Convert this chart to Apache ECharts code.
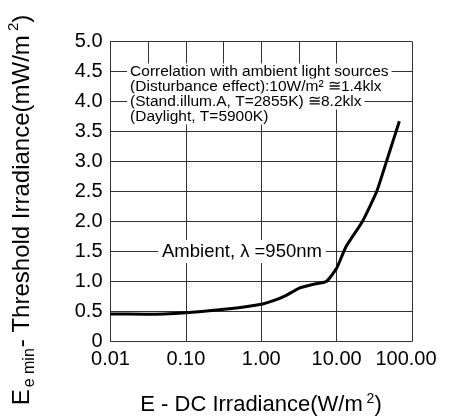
<!DOCTYPE html>
<html>
<head>
<meta charset="utf-8">
<script src="https://cdn.jsdelivr.net/npm/echarts@6/dist/echarts.min.js"></script>
<style>
html,body{margin:0;padding:0;background:#fff;}
#chart{width:449px;height:417px;}
</style>
</head>
<body>
<div id="chart"></div>
<script>
// ---- data ----
const xTicks = [0.01, 0.1, 1, 10, 100];
const xTickLabels = ['0.01', '0.10', '1.00', '10.00', '100.00'];
const yTicks = [0, 0.5, 1, 1.5, 2, 2.5, 3, 3.5, 4, 4.5, 5];
const yTickLabels = ['0', '0.5', '1.0', '1.5', '2.0', '2.5', '3.0', '3.5', '4.0', '4.5', '5.0'];
const irradiance = [0.01, 0.03, 0.1, 0.35, 1.0, 1.45, 2.15, 3.2, 4.8, 7.3, 10, 13.3, 22, 34, 48, 68];
const threshold  = [0.46, 0.455, 0.48, 0.54, 0.62, 0.68, 0.77, 0.89, 0.95, 1.0, 1.22, 1.58, 2.0, 2.5, 3.08, 3.67];
const halfDecadeStubs = [0.0316, 0.316, 3.16];
const stubRange = [4.5, 5.0];
const noteLines = [
  'Correlation with ambient light sources',
  '(Disturbance effect):10W/m² ≅1.4klx',
  '(Stand.illum.A, T=2855K) ≅8.2klx',
  '(Daylight, T=5900K)'
];
const noteAnchor = [0.0166, 4.5];
const noteLevels = [4.5, 4.25, 4.0, 3.75];
const curveLabel = 'Ambient, λ =950nm';
const curveLabelAnchor = [0.555, 1.5];

const FONT = '"Liberation Sans", Arial, Helvetica, sans-serif';
const GRIDC = '#333';

const chart = echarts.init(document.getElementById('chart'), null, {renderer: 'canvas'});

const curve = irradiance.map((x, i) => [x, threshold[i]]);

function xLabel(v) {
  let idx = xTicks.findIndex(t => Math.abs(Math.log10(t) - Math.log10(v)) < 1e-6);
  if (idx < 0) return '';
  if (idx === xTicks.length - 1) return '{last|' + xTickLabels[idx] + '}';
  return xTickLabels[idx];
}
function yLabel(v) {
  let idx = yTicks.findIndex(t => Math.abs(t - v) < 1e-6);
  return idx < 0 ? '' : yTickLabels[idx];
}

chart.setOption({
  animation: false,
  backgroundColor: '#fff',
  textStyle: {fontFamily: FONT},
  grid: {left: 110.5, right: 37, top: 41.5, bottom: 75.5, outerBoundsMode: 'none', containLabel: false},
  xAxis: {
    type: 'log', logBase: 10, min: 0.01, max: 100,
    axisLine: {show: true, lineStyle: {color: GRIDC, width: 1}},
    axisTick: {show: false},
    splitLine: {show: true, lineStyle: {color: GRIDC, width: 1}},
    minorSplitLine: {show: false},
    axisLabel: {
      formatter: xLabel, color: '#000', fontSize: 20, fontFamily: FONT, margin: 8,
      rich: {last: {fontSize: 20, fontFamily: FONT, color: '#000', padding: [0, 12, 0, 0]}}
    }
  },
  yAxis: {
    type: 'value', min: 0, max: 5, interval: 0.5,
    axisLine: {show: true, lineStyle: {color: GRIDC, width: 1}},
    axisTick: {show: false},
    splitLine: {show: true, lineStyle: {color: GRIDC, width: 1}},
    axisLabel: {formatter: yLabel, color: '#000', fontSize: 20, fontFamily: FONT, margin: 8}
  },
  series: [
    {
      type: 'line', data: curve, showSymbol: false, symbol: 'none', smooth: 0.15,
      lineStyle: {color: '#000', width: 3}, z: 3,
      markLine: {
        silent: true, symbol: ['none', 'none'],
        label: {show: false},
        lineStyle: {color: GRIDC, width: 1, type: 'solid'},
        data: halfDecadeStubs.map(x => [{coord: [x, stubRange[0]]}, {coord: [x, stubRange[1]]}])
      }
    }
  ]
});

function px(pt) { return chart.convertToPixel({xAxisIndex: 0, yAxisIndex: 0}, pt); }

const graphics = [];
const left = px(noteAnchor)[0];
noteLines.forEach((t, i) => {
  const y = px([noteAnchor[0], noteLevels[i]])[1];
  graphics.push({
    type: 'text', x: left, y: y, z: 100,
    style: {
      text: t, font: '15.5px ' + FONT, fill: '#000',
      align: 'left', verticalAlign: 'middle',
      backgroundColor: '#fff', padding: [0, 3, 0, 3]
    }
  });
});
const cl = px(curveLabelAnchor);
graphics.push({
  type: 'text', x: cl[0], y: cl[1], z: 100,
  style: {
    text: curveLabel, font: '18.5px ' + FONT, fill: '#000',
    align: 'center', verticalAlign: 'middle',
    backgroundColor: '#fff', padding: [2, 4, 2, 4]
  }
});
// axis names
graphics.push({
  type: 'text', x: 261, y: 404, z: 100,
  style: {
    text: '{n|E - DC Irradiance(W/m}{s| 2}{n|)}',
    align: 'center', verticalAlign: 'middle',
    rich: {
      n: {fontSize: 22, fontFamily: FONT, color: '#000', verticalAlign: 'bottom', lineHeight: 24},
      s: {fontSize: 14, fontFamily: FONT, color: '#000', verticalAlign: 'top', lineHeight: 24}
    }
  }
});
graphics.push({
  type: 'text', x: 20, y: 210, rotation: Math.PI / 2, z: 100,
  style: {
    text: '{n|E}{b|e min}{n|- Threshold Irradiance(mW/m}{s| 2}{n|)}',
    align: 'center', verticalAlign: 'middle',
    rich: {
      n: {fontSize: 24, fontFamily: FONT, color: '#000', verticalAlign: 'bottom', lineHeight: 28},
      b: {fontSize: 16, fontFamily: FONT, color: '#000', verticalAlign: 'bottom', lineHeight: 28, padding: [0, 1, -4, 2]},
      s: {fontSize: 15, fontFamily: FONT, color: '#000', verticalAlign: 'top', lineHeight: 28}
    }
  }
});
chart.setOption({graphic: graphics});
</script>
</body>
</html>
